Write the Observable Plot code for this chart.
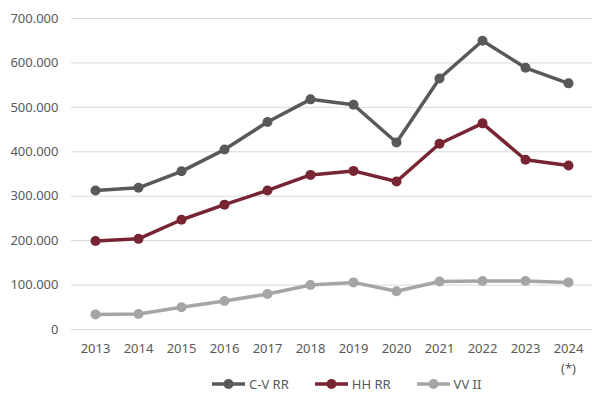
<!DOCTYPE html>
<html>
<head>
<meta charset="utf-8">
<script src="https://cdn.jsdelivr.net/npm/d3@7"></script>
<script src="https://cdn.jsdelivr.net/npm/@observablehq/plot@0.6"></script>
<style>
  body { margin: 0; background: #fff; font-family: "Noto Sans", "Open Sans", sans-serif; }
  #wrap { width: 606px; }
  #wrap svg { overflow: visible; }
  #legend { height: 27px; display: flex; justify-content: flex-start; align-items: center; gap: 26px; font-size: 13px; color: #595959; padding-left: 212px; }
  #legend span.item { display: flex; align-items: center; gap: 4px; }
</style>
</head>
<body>
<div id="wrap"></div>
<script>
const years = ["2013","2014","2015","2016","2017","2018","2019","2020","2021","2022","2023","2024"];
const yearLabels = ["2013","2014","2015","2016","2017","2018","2019","2020","2021","2022","2023","2024\n(*)"];
const seriesNames = ["C-V RR", "HH RR", "VV II"];
const seriesColors = ["#595959", "#772532", "#a5a5a5"];
const cvRR = [313000, 319000, 356000, 405000, 467000, 518000, 506000, 421000, 565000, 650000, 589000, 554000];
const hhRR = [199000, 204000, 247000, 281000, 313000, 348000, 357000, 333000, 418000, 464000, 382000, 369000];
const vvII = [34000, 35000, 50000, 64000, 80000, 100000, 106000, 86000, 108000, 109000, 109000, 106000];
const yTicks = [0, 100000, 200000, 300000, 400000, 500000, 600000, 700000];

const seriesValues = [cvRR, hhRR, vvII];
const data = [];
seriesNames.forEach((s, i) => years.forEach((y, j) => data.push({series: s, year: y, value: seriesValues[i][j]})));

const fmt = v => v === 0 ? "0" : d3.format(",")(v).replace(/,/g, ".");
const labelMap = new Map(years.map((y, i) => [y, yearLabels[i]]));

const chart = Plot.plot({
  width: 606,
  height: 370,
  marginTop: 18,
  marginBottom: 41,
  marginLeft: 71,
  marginRight: 14,
  style: { fontFamily: "'Noto Sans', 'Open Sans', sans-serif", fontSize: "13px", color: "#595959", background: "#fff", overflow: "visible" },
  x: { type: "point", domain: years, padding: 0.5 },
  y: { domain: [0, 700000] },
  color: { domain: seriesNames, range: seriesColors },
  marks: [
    Plot.gridY(yTicks, { stroke: "#d9d9d9", strokeOpacity: 1, strokeWidth: 1 }),
    Plot.axisY(yTicks, { tickSize: 0, tickPadding: 13, tickFormat: fmt, fill: "#595959", label: null, fontSize: 13 }),
    Plot.axisX({ tickSize: 0, tickPadding: 10, tickFormat: d => labelMap.get(d), fill: "#595959", label: null, fontSize: 13, lineHeight: 1.5 }),
    Plot.line(data, { x: "year", y: "value", stroke: "series", strokeWidth: 3.5, z: "series" }),
    Plot.dot(data, { x: "year", y: "value", fill: "series", r: 5 })
  ]
});
document.getElementById("wrap").appendChild(chart);

const legend = document.createElement("div");
legend.id = "legend";
seriesNames.forEach((s, i) => {
  const item = document.createElement("span");
  item.className = "item";
  item.innerHTML = `<svg width="33" height="12"><line x1="0" y1="6" x2="33" y2="6" stroke="${seriesColors[i]}" stroke-width="3.5"/><circle cx="16.5" cy="6" r="5" fill="${seriesColors[i]}"/></svg><span>${s}</span>`;
  legend.appendChild(item);
});
document.getElementById("wrap").appendChild(legend);
</script>
</body>
</html>
